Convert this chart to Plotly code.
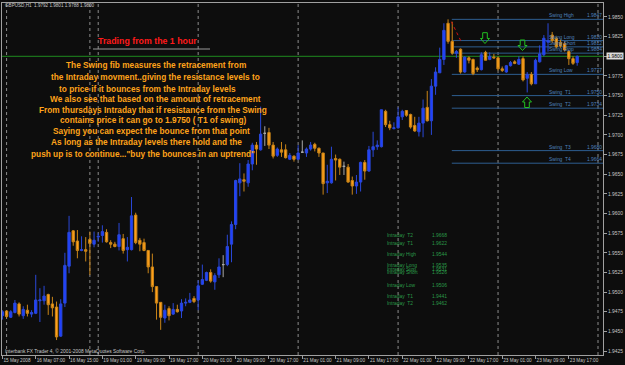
import plotly.graph_objects as go

# ---------------- data ----------------
opens = [1.9470,1.9476,1.9468,1.9474,1.9485,1.9470,1.9477,1.9472,1.9473,1.9489,
         1.9489,1.9497,1.9485,1.9481,1.9444,1.9486,1.9533,1.9578,1.9565,1.9553,
         1.9554,1.9567,1.9561,1.9570,1.9572,1.9576,1.9563,1.9561,1.9558,1.9568,
         1.9554,1.9554,1.9598,1.9566,1.9563,1.9553,1.9532,1.9507,1.9487,1.9467,
         1.9479,1.9472,1.9478,1.9476,1.9486,1.9487,1.9492,1.9490,1.9510,1.9515,
         1.9525,1.9513,1.9522,1.9535,1.9535,1.9561,1.9586,1.9639,1.9643,1.9639,
         1.9663,1.9687,1.9681,1.9702,1.9703,1.9687,1.9674,1.9681,1.9681,1.9669,
         1.9673,1.9669,1.9678,1.9677,1.9682,1.9688,1.9683,1.9677,1.9639,1.9639,
         1.9670,1.9669,1.9660,1.9659,1.9642,1.9635,1.9640,1.9665,1.9654,1.9681,
         1.9685,1.9685,1.9730,1.9713,1.9708,1.9709,1.9723,1.9731,1.9726,1.9712,
         1.9704,1.9715,1.9735,1.9718,1.9762,1.9779,1.9796,1.9842,1.9819,1.9804,
         1.9809,1.9780,1.9798,1.9796,1.9785,1.9783,1.9805,1.9796,1.9799,1.9798,
         1.9784,1.9780,1.9788,1.9793,1.9790,1.9797,1.9772,1.9777,1.9765,1.9793,
         1.9802,1.9818,1.9827,1.9823,1.9818,1.9816,1.9806,1.9797,1.9792]
highs = [1.9477,1.9477,1.9477,1.9490,1.9487,1.9482,1.9484,1.9477,1.9522,1.9505,
         1.9508,1.9498,1.9494,1.9488,1.9491,1.9550,1.9597,1.9579,1.9579,1.9571,
         1.9570,1.9577,1.9577,1.9575,1.9585,1.9580,1.9566,1.9564,1.9588,1.9574,
         1.9570,1.9621,1.9601,1.9569,1.9568,1.9553,1.9549,1.9507,1.9487,1.9484,
         1.9482,1.9486,1.9484,1.9491,1.9492,1.9499,1.9495,1.9515,1.9535,1.9526,
         1.9529,1.9524,1.9543,1.9547,1.9573,1.9590,1.9643,1.9664,1.9651,1.9668,
         1.9690,1.9691,1.9736,1.9711,1.9709,1.9691,1.9684,1.9691,1.9688,1.9677,
         1.9674,1.9687,1.9693,1.9684,1.9691,1.9690,1.9684,1.9677,1.9662,1.9685,
         1.9675,1.9670,1.9666,1.9663,1.9647,1.9649,1.9666,1.9668,1.9686,1.9704,
         1.9693,1.9732,1.9732,1.9718,1.9716,1.9735,1.9732,1.9731,1.9727,1.9723,
         1.9723,1.9745,1.9756,1.9771,1.9786,1.9811,1.9842,1.9847,1.9844,1.9808,
         1.9810,1.9800,1.9800,1.9797,1.9787,1.9805,1.9807,1.9805,1.9803,1.9800,
         1.9787,1.9789,1.9794,1.9795,1.9800,1.9800,1.9780,1.9780,1.9797,1.9814,
         1.9827,1.9842,1.9831,1.9825,1.9821,1.9819,1.9808,1.9800,1.9801]
lows = [1.9465,1.9467,1.9467,1.9473,1.9469,1.9466,1.9469,1.9468,1.9472,1.9462,
        1.9484,1.9471,1.9469,1.9439,1.9443,1.9481,1.9524,1.9559,1.9543,1.9552,
        1.9539,1.9522,1.9557,1.9564,1.9563,1.9563,1.9556,1.9557,1.9553,1.9549,
        1.9539,1.9553,1.9561,1.9552,1.9552,1.9524,1.9500,1.9465,1.9452,1.9461,
        1.9464,1.9471,1.9474,1.9467,1.9482,1.9486,1.9486,1.9477,1.9509,1.9514,
        1.9512,1.9503,1.9518,1.9519,1.9533,1.9538,1.9580,1.9622,1.9628,1.9634,
        1.9655,1.9662,1.9680,1.9686,1.9682,1.9670,1.9672,1.9672,1.9670,1.9668,
        1.9666,1.9668,1.9677,1.9672,1.9680,1.9679,1.9672,1.9624,1.9626,1.9638,
        1.9642,1.9649,1.9649,1.9639,1.9624,1.9625,1.9628,1.9643,1.9653,1.9672,
        1.9681,1.9684,1.9710,1.9706,1.9707,1.9708,1.9719,1.9723,1.9708,1.9704,
        1.9698,1.9697,1.9717,1.9700,1.9751,1.9779,1.9789,1.9816,1.9802,1.9798,
        1.9778,1.9779,1.9791,1.9776,1.9780,1.9782,1.9795,1.9795,1.9797,1.9782,
        1.9780,1.9779,1.9787,1.9790,1.9789,1.9768,1.9754,1.9763,1.9765,1.9792,
        1.9800,1.9806,1.9817,1.9810,1.9811,1.9806,1.9789,1.9789,1.9788]
closes = [1.9475,1.9469,1.9475,1.9486,1.9472,1.9478,1.9473,1.9474,1.9490,1.9490,
          1.9495,1.9484,1.9480,1.9443,1.9485,1.9534,1.9576,1.9564,1.9553,1.9554,
          1.9552,1.9562,1.9566,1.9571,1.9577,1.9564,1.9561,1.9558,1.9573,1.9553,
          1.9557,1.9597,1.9563,1.9561,1.9553,1.9532,1.9507,1.9486,1.9468,1.9477,
          1.9470,1.9478,1.9475,1.9486,1.9487,1.9490,1.9488,1.9508,1.9516,1.9525,
          1.9514,1.9521,1.9532,1.9535,1.9558,1.9586,1.9642,1.9644,1.9641,1.9663,
          1.9687,1.9682,1.9701,1.9702,1.9687,1.9673,1.9682,1.9678,1.9671,1.9674,
          1.9669,1.9677,1.9678,1.9682,1.9687,1.9683,1.9677,1.9638,1.9641,1.9669,
          1.9668,1.9659,1.9660,1.9640,1.9635,1.9640,1.9665,1.9654,1.9681,1.9685,
          1.9687,1.9732,1.9713,1.9709,1.9709,1.9723,1.9730,1.9725,1.9710,1.9705,
          1.9715,1.9734,1.9718,1.9762,1.9780,1.9796,1.9833,1.9819,1.9804,1.9806,
          1.9780,1.9799,1.9795,1.9778,1.9783,1.9802,1.9795,1.9800,1.9798,1.9784,
          1.9782,1.9788,1.9792,1.9791,1.9796,1.9770,1.9777,1.9765,1.9795,1.9803,
          1.9823,1.9820,1.9820,1.9812,1.9813,1.9808,1.9797,1.9791,1.9800]

tick_bars = [0, 8, 16, 24, 32, 40, 48, 56, 64, 72, 80, 88, 96, 104, 112, 120, 128, 136]
tick_labels = ["15 May 2008", "16 May 07:00", "16 May 15:00", "19 May 01:00", "19 May 09:00",
               "19 May 17:00", "20 May 01:00", "20 May 09:00", "20 May 17:00", "21 May 01:00",
               "21 May 09:00", "21 May 17:00", "22 May 01:00", "22 May 09:00", "22 May 17:00",
               "23 May 01:00", "23 May 09:00", "23 May 17:00"]
price_ticks = [1.9425, 1.9450, 1.9475, 1.9500, 1.9525, 1.9550, 1.9575, 1.9600, 1.9625,
               1.9650, 1.9675, 1.9700, 1.9725, 1.9750, 1.9775, 1.9800, 1.9825, 1.9850]
day_breaks = [1, 21, 23, 47, 71, 95, 119, 143]

bid_price = 1.9800
swing_names = ["Swing High", "Swing Long", "Swing Short", "Swing Stop", "Swing Low",
               "Swing  T1", "Swing  T2", "Swing  T3", "Swing  T4"]
swing_levels = [1.9847, 1.9820, 1.9812, 1.9804, 1.9777, 1.9750, 1.9734, 1.9680, 1.9664]
swing_start_bar = 108

intraday_names = ["Intraday  T2", "Intraday  T1", "Intraday High", "Intraday Long", "Intraday Stop",
                  "Intraday Short", "Intraday Low", "Intraday  T1", "Intraday  T2"]
intraday_values = ["1.9668", "1.9622", "1.9544", "1.9535", "1.9531", "1.9526", "1.9506", "1.9441", "1.9462"]

note_lines = [
    "The Swing fib measures the retracement from",
    "the Intraday movment..giving the resistance levels to",
    "to price if it bounces from the Intraday levels",
    "We also see that based on the amount of retracement",
    "From thursdays Intraday that if resistance from the Swing",
    "contains price it can go to 1.9750 ( T1 of swing)",
    "Saying you can expect the bounce from that point",
    "As long as the Intraday levels there hold and the",
    "push up is to continue...\"buy the bounces in an uptrend\"",
]

# ---------------- layout geometry ----------------
W, H = 625, 365
ML, MR, MT, MB = 2, 22, 3, 10
PW, PH = W - ML - MR, H - MT - MB
x_range = [-0.1, 144.2]
y_range = [1.9420, 1.98678]

def px(x):
    return (x - ML) / PW

def py(y):
    return (H - MB - y) / PH

BG = "#0d0d0d"
AXC = "#c8c8c8"
SMALL = "Liberation Sans, Arial"
FS = 4.9

bars = list(range(len(opens)))
groups = {
    "bull": [i for i in bars if closes[i] > opens[i]],
    "bear": [i for i in bars if closes[i] < opens[i]],
    "doji": [i for i in bars if closes[i] == opens[i]],
}
styles = {
    "bull": ("#2a48d8", "#1f40ff"),
    "bear": ("#c98418", "#ffa01a"),
    "doji": ("#a8a8a8", "#a8a8a8"),
}

fig = go.Figure()
for key, idx in groups.items():
    line_c, fill_c = styles[key]
    fig.add_trace(go.Candlestick(
        x=idx,
        open=[opens[i] for i in idx], high=[highs[i] for i in idx],
        low=[lows[i] for i in idx], close=[closes[i] for i in idx],
        increasing=dict(line=dict(color=line_c, width=1), fillcolor=fill_c),
        decreasing=dict(line=dict(color=line_c, width=1), fillcolor=fill_c),
        whiskerwidth=0, hoverinfo="skip", showlegend=False,
    ))

shapes = []
for b in day_breaks:
    shapes.append(dict(type="line", xref="x", yref="paper", x0=b, x1=b, y0=0, y1=1,
                       line=dict(color="#8c8c8c", width=1, dash="dot"), layer="below"))
shapes.append(dict(type="line", xref="paper", yref="y", x0=0, x1=1, y0=bid_price, y1=bid_price,
                   line=dict(color="#1f8a1f", width=1), layer="below"))
for lvl in swing_levels:
    shapes.append(dict(type="line", xref="x", yref="y", x0=swing_start_bar - 0.1, x1=x_range[1],
                       y0=lvl, y1=lvl, line=dict(color="#2e5e90", width=1), layer="below"))
# fib anchor (red dotted)
shapes.append(dict(type="line", xref="x", yref="y", x0=107.8, x1=110.3, y0=1.9844, y1=1.9817,
                   line=dict(color="#d01010", width=1, dash="dot")))
# underline under the title
shapes.append(dict(type="line", xref="paper", yref="paper", x0=px(93), x1=px(210), y0=py(49), y1=py(49),
                   line=dict(color="#9a9a9a", width=1)))

def block_arrow(cx, y_tail, y_tip, sw=4.6, hw=9.0, hl=5.0):
    d = 1 if y_tip > y_tail else -1
    yb = y_tip - d * hl
    pts = [(cx - sw / 2, y_tail), (cx + sw / 2, y_tail), (cx + sw / 2, yb), (cx + hw / 2, yb),
           (cx, y_tip), (cx - hw / 2, yb), (cx - sw / 2, yb)]
    return "M " + " L ".join(f"{px(a):.5f},{py(b):.5f}" for a, b in pts) + " Z"

for cx, yt, yp in [(485, 32.7, 43.5), (522.5, 40, 50.5), (527, 107.5, 97)]:
    shapes.append(dict(type="path", xref="paper", yref="paper", path=block_arrow(cx, yt, yp),
                       line=dict(color="#22c022", width=1), fillcolor="rgba(0,0,0,0)"))

ann = []
# header & copyright
ann.append(dict(xref="paper", yref="paper", x=px(3), y=py(5.8), xanchor="left", yanchor="middle",
                text="GBPUSD,H1  1.9792 1.9801 1.9788 1.9800", showarrow=False,
                font=dict(family=SMALL, size=4.6, color=AXC)))
ann.append(dict(xref="paper", yref="paper", x=px(3), y=py(351), xanchor="left", yanchor="middle",
                text="Interbank FX Trader 4, \u00a9 2001-2008 MetaQuotes Software Corp.", showarrow=False,
                font=dict(family=SMALL, size=FS, color=AXC)))
# title
ann.append(dict(xref="paper", yref="paper", x=px(147.5), y=py(41), xanchor="center", yanchor="middle",
                text="<b>Trading from the 1 hour</b>", showarrow=False,
                font=dict(family="Liberation Sans, Arial", size=8.8, color="#ff1a1a")))
# note lines
note_cx = [155.5, 155.8, 147.5, 155.8, 153, 152.5, 151, 146.7, 143]
note_cy = [65.3, 76.7, 89, 99.3, 110, 120.3, 130.7, 142.3, 154.3]
for t, cx, cy in zip(note_lines, note_cx, note_cy):
    ann.append(dict(xref="paper", yref="paper", x=px(cx), y=py(cy), xanchor="center", yanchor="middle",
                    text="<b>" + t + "</b>", showarrow=False,
                    font=dict(family="Liberation Sans, Arial", size=8.3, color="#ffa31a")))
# swing labels
for name, lvl in zip(swing_names, swing_levels):
    ann.append(dict(xref="x", yref="y", x=131, y=lvl, xanchor="left", yanchor="bottom",
                    text=name, showarrow=False, borderpad=0,
                    font=dict(family=SMALL, size=FS, color="#4f82bf")))
    ann.append(dict(xref="paper", yref="y", x=1, y=lvl, xanchor="right", yanchor="bottom",
                    text=f"{lvl:.4f}", showarrow=False, borderpad=0,
                    font=dict(family=SMALL, size=FS, color="#4f82bf")))
# intraday labels
intraday_y = [236, 243.3, 255, 265.5, 269, 272.5, 285, 296, 303]
for name, val, yy in zip(intraday_names, intraday_values, intraday_y):
    ann.append(dict(xref="paper", yref="paper", x=px(386), y=py(yy), xanchor="left", yanchor="middle",
                    text=name, showarrow=False, borderpad=0,
                    font=dict(family=SMALL, size=FS, color="#2a9a48")))
    ann.append(dict(xref="paper", yref="paper", x=px(431), y=py(yy), xanchor="left", yanchor="middle",
                    text=val, showarrow=False, borderpad=0,
                    font=dict(family=SMALL, size=FS, color="#2a9a48")))
# current price box
ann.append(dict(xref="paper", yref="y", x=px(606), y=bid_price, xanchor="left", yanchor="middle",
                text=f"{bid_price:.4f}", showarrow=False, bgcolor="#dcdcdc", borderpad=0.5,
                font=dict(family=SMALL, size=FS, color="#000000")))

fig.update_layout(
    width=W, height=H, margin=dict(l=ML, r=MR, t=MT, b=MB, autoexpand=False),
    paper_bgcolor=BG, plot_bgcolor=BG, showlegend=False, hovermode=False,
    boxgap=0.3, boxgroupgap=0.2,
    shapes=shapes, annotations=ann,
    xaxis=dict(range=x_range, tickmode="array", tickvals=tick_bars, ticktext=tick_labels,
               ticklabelposition="outside right", ticks="outside", ticklen=3, tickcolor="#a0a0a0",
               tickangle=0, automargin=False,
               tickfont=dict(family=SMALL, size=4.7, color=AXC), showgrid=False, zeroline=False,
               showline=True, linecolor="#a0a0a0", linewidth=1, mirror=True,
               rangeslider=dict(visible=False), ticklabeloverflow="allow"),
    yaxis=dict(range=y_range, side="right", tickmode="array", tickvals=price_ticks, tickformat=".4f",
               ticks="outside", ticklen=3, tickcolor="#a0a0a0", automargin=False,
               tickfont=dict(family=SMALL, size=FS, color=AXC), showgrid=False, zeroline=False,
               showline=True, linecolor="#a0a0a0", linewidth=1, mirror=True,
               ticklabeloverflow="allow"),
)

fig.write_html("out.html")
